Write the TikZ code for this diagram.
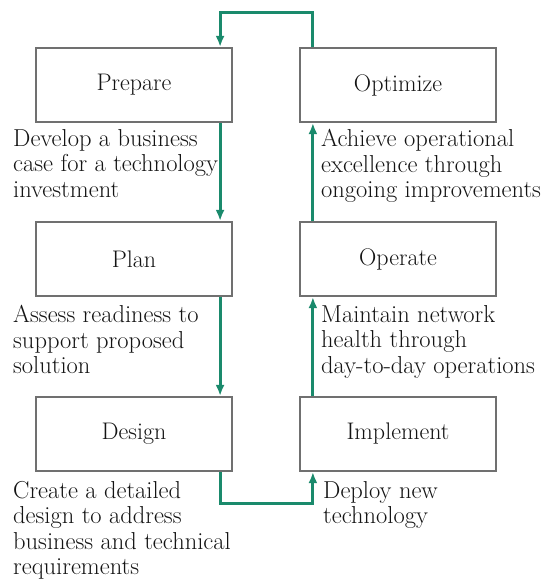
\documentclass[tikz,border=0pt]{standalone}
\usetikzlibrary{arrows.meta}

\definecolor{flowgreen}{RGB}{26,138,108}
\definecolor{boxgray}{RGB}{112,112,112}
\definecolor{textgray}{RGB}{20,20,20}

\begin{document}
\begin{tikzpicture}[x = 1pt, y = -1pt,
	stage/.style = {draw = boxgray, line width = 2.2pt, fill = white, text = textgray,
		minimum width = 196pt, minimum height = 74pt, font = \fontsize{24}{26}\selectfont},
	info/.style = {anchor = north west, inner sep = 0pt, align = left, text = textgray,
		font = \fontsize{24.5}{25.5}\selectfont},
	flow/.style = {draw = flowgreen, line width = 3pt, -{Latex[length = 11pt, width = 9pt]}}]
	\useasboundingbox (0, 0) rectangle (543, 582);

	%	columns and rows
	\def\xl{134}
	\def\xr{398}
	\def\ya{85}
	\def\yb{259}
	\def\yc{434}

	%	stages
	\node[stage] (prepare)   at (\xl, \ya) {Prepare};
	\node[stage] (plan)      at (\xl, \yb) {Plan};
	\node[stage] (design)    at (\xl, \yc) {Design};
	\node[stage] (optimize)  at (\xr, \ya) {Optimize};
	\node[stage] (operate)   at (\xr, \yb) {Operate};
	\node[stage] (implement) at (\xr, \yc) {Implement};

	%	what each stage does
	\node[info] (prepareinfo)   at (13, 129)  {Develop a business\\case for a technology\\investment};
	\node[info] (planinfo)      at (13, 305)  {Assess readiness to\\support proposed\\solution};
	\node[info] (designinfo)    at (13, 481)  {Create a detailed\\design to address\\business and technical\\requirements};
	\node[info] (optimizeinfo)  at (321, 129) {Achieve operational\\excellence through\\ongoing improvements};
	\node[info] (operateinfo)   at (321, 305) {Maintain network\\health through\\day-to-day operations};
	\node[info] (implementinfo) at (323, 481) {Deploy new\\technology};

	%	flow down the left, up the right
	\draw[flow] ([xshift = -13]prepare.south east) -- ([xshift = -13]plan.north east);
	\draw[flow] ([xshift = -13]plan.south east) -- ([xshift = -13]design.north east);
	\draw[flow] ([xshift = -13]design.south east) -- ++(0, 31) -| ([xshift = 14]implement.south west);
	\draw[flow] ([xshift = 14]implement.north west) -- ([xshift = 14]operate.south west);
	\draw[flow] ([xshift = 14]operate.north west) -- ([xshift = 14]optimize.south west);

	%	back to the start
	\draw[flow] ([xshift = 14]optimize.north west) -- ++(0, -34) -| ([xshift = -13]prepare.north east);
\end{tikzpicture}
\end{document}
